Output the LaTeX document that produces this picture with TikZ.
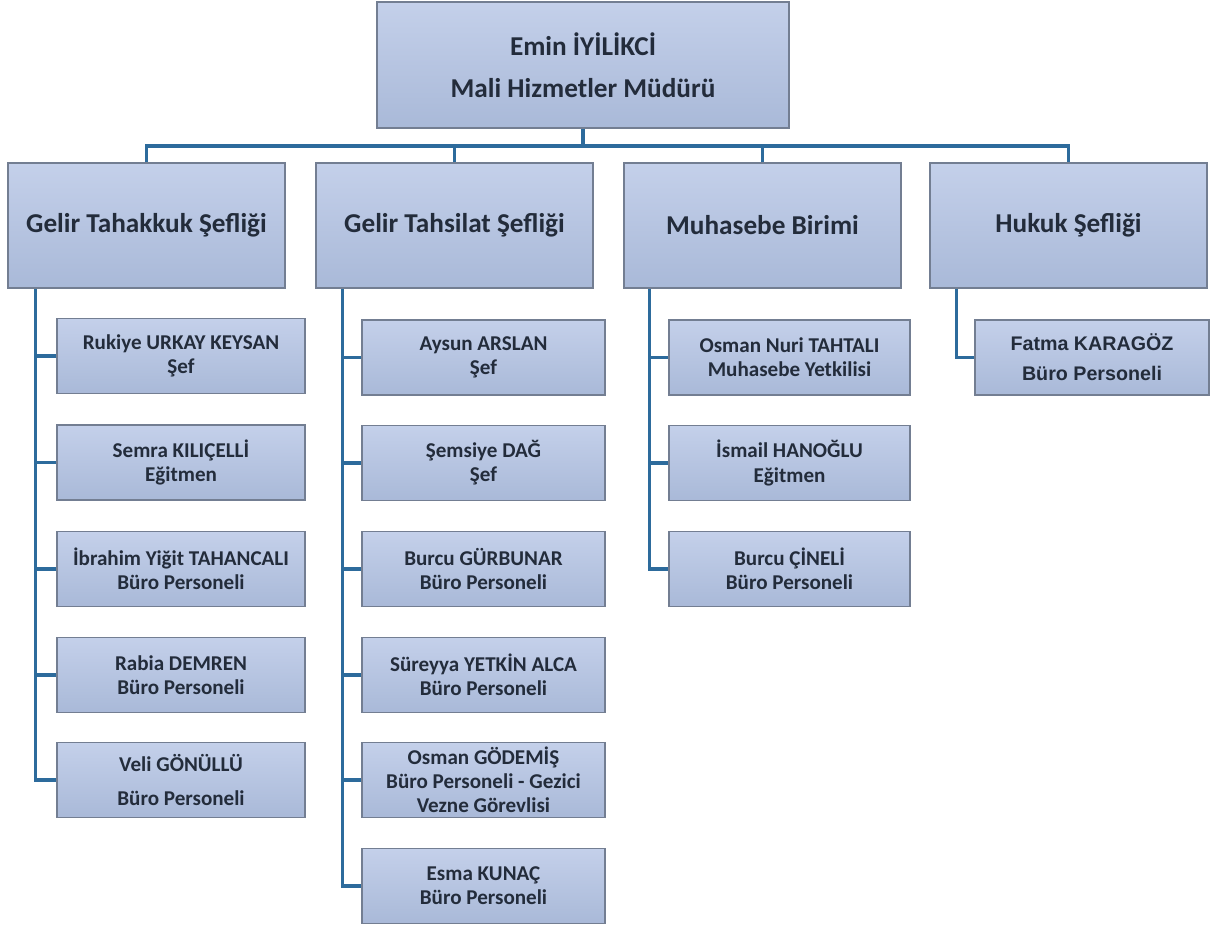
\documentclass[tikz,border=0pt]{standalone}
\usepackage{fontspec}
\setmainfont{Carlito}
\newfontfamily\arialfont{Liberation Sans}
\usepackage{tikz}
\usetikzlibrary{positioning, calc}
\definecolor{boxtop}{HTML}{C4D0EA}
\definecolor{boxbot}{HTML}{A9B9D8}
\definecolor{boxline}{HTML}{737E92}
\definecolor{linkblue}{HTML}{2D6B9C}
\definecolor{ink}{HTML}{232C3B}

\tikzset{
  unit/.style={draw=boxline, line width=0.8pt, top color=boxtop, bottom color=boxbot,
    inner sep=0pt, align=center, text=ink},
  chief/.style={unit, minimum width=8.24cm, minimum height=2.52cm,
    font=\bfseries\fontsize{15.5}{24}\selectfont},
  head/.style={unit, minimum width=5.54cm, minimum height=2.5cm,
    font=\bfseries\fontsize{15.5}{20}\selectfont},
  staff/.style={unit, minimum height=1.5cm, font=\bfseries\fontsize{12}{13.8}\selectfont},
  link/.style={draw=linkblue, line width=1.8pt},
}

\begin{document}
\begin{tikzpicture}[x=0.02cm, y=-0.02cm]
    \useasboundingbox (0,0) rectangle (1210,925);

    % mudur
    \node[chief] (mudur) at (583,65) {Emin İYİLİKCİ\\Mali Hizmetler Müdürü};

    % sefliks
    \node[head] (tahakkuk) at (146.5,225.5) {Gelir Tahakkuk Şefliği};
    \node[head] (tahsilat) at (454.5,225.5) {Gelir Tahsilat Şefliği};
    \node[head] (muhasebe) at (762.5,225.5) {Muhasebe Birimi};
    \node[head] (hukuk) at (1068.5,225.5) {Hukuk Şefliği};

    \coordinate (bus) at (583,146);
    \draw[link] (mudur.south) -- (bus);
    \draw[link] (tahakkuk.north) |- (bus) -| (hukuk.north);
    \draw[link] (tahsilat.north) -- (tahsilat.north |- bus);
    \draw[link] (muhasebe.north) -- (muhasebe.north |- bus);

    % Gelir Tahakkuk
    \node[staff, minimum width=4.96cm] (r1) at (181,356) {Rukiye URKAY KEYSAN\\Şef};
    \node[staff, minimum width=4.96cm] (r2) at (181,462.5) {Semra KILIÇELLİ\\Eğitmen};
    \node[staff, minimum width=4.96cm] (r3) at (181,569) {İbrahim Yiğit TAHANCALI\\Büro Personeli};
    \node[staff, minimum width=4.96cm] (r4) at (181,675) {Rabia DEMREN\\Büro Personeli};
    \node[staff, minimum width=4.96cm] (r5) at (181,780) {Veli GÖNÜLLÜ\\[5pt]Büro Personeli};

    \coordinate (t1) at ($(tahakkuk.south west)+(28,0)$);
    \foreach \c in {r1,r2,r3,r4}
        \draw[link] (\c.west) -- (\c.west -| t1);
    \draw[link] (t1) |- (r5.west);

    % Gelir Tahsilat
    \node[staff, minimum width=4.86cm] (s1) at (483.5,357.5) {Aysun ARSLAN\\Şef};
    \node[staff, minimum width=4.86cm] (s2) at (483.5,463) {Şemsiye DAĞ\\Şef};
    \node[staff, minimum width=4.86cm] (s3) at (483.5,569) {Burcu GÜRBUNAR\\Büro Personeli};
    \node[staff, minimum width=4.86cm] (s4) at (483.5,675) {Süreyya YETKİN ALCA\\Büro Personeli};
    \node[staff, minimum width=4.86cm] (s5) at (483.5,780) {Osman GÖDEMİŞ\\Büro Personeli - Gezici\\Vezne Görevlisi};
    \node[staff, minimum width=4.86cm] (s6) at (483.5,886) {Esma KUNAÇ\\Büro Personeli};

    \coordinate (t2) at ($(tahsilat.south west)+(27,0)$);
    \foreach \c in {s1,s2,s3,s4,s5}
        \draw[link] (\c.west) -- (\c.west -| t2);
    \draw[link] (t2) |- (s6.west);

    % Muhasebe
    \node[staff, minimum width=4.82cm] (m1) at (789.5,357.5) {Osman Nuri TAHTALI\\Muhasebe Yetkilisi};
    \node[staff, minimum width=4.82cm] (m2) at (789.5,463) {İsmail HANOĞLU\\Eğitmen};
    \node[staff, minimum width=4.82cm] (m3) at (789.5,569) {Burcu ÇİNELİ\\Büro Personeli};

    \coordinate (t3) at ($(muhasebe.south west)+(26,0)$);
    \foreach \c in {m1,m2}
        \draw[link] (\c.west) -- (\c.west -| t3);
    \draw[link] (t3) |- (m3.west);

    % Hukuk
    \node[staff, minimum width=4.68cm, font=\arialfont\bfseries\fontsize{11.2}{17}\selectfont] (h1) at (1092,357.5) {Fatma KARAGÖZ\\Büro Personeli};

    \coordinate (t4) at ($(hukuk.south west)+(27,0)$);
    \draw[link] (t4) |- (h1.west);
\end{tikzpicture}
\end{document}
